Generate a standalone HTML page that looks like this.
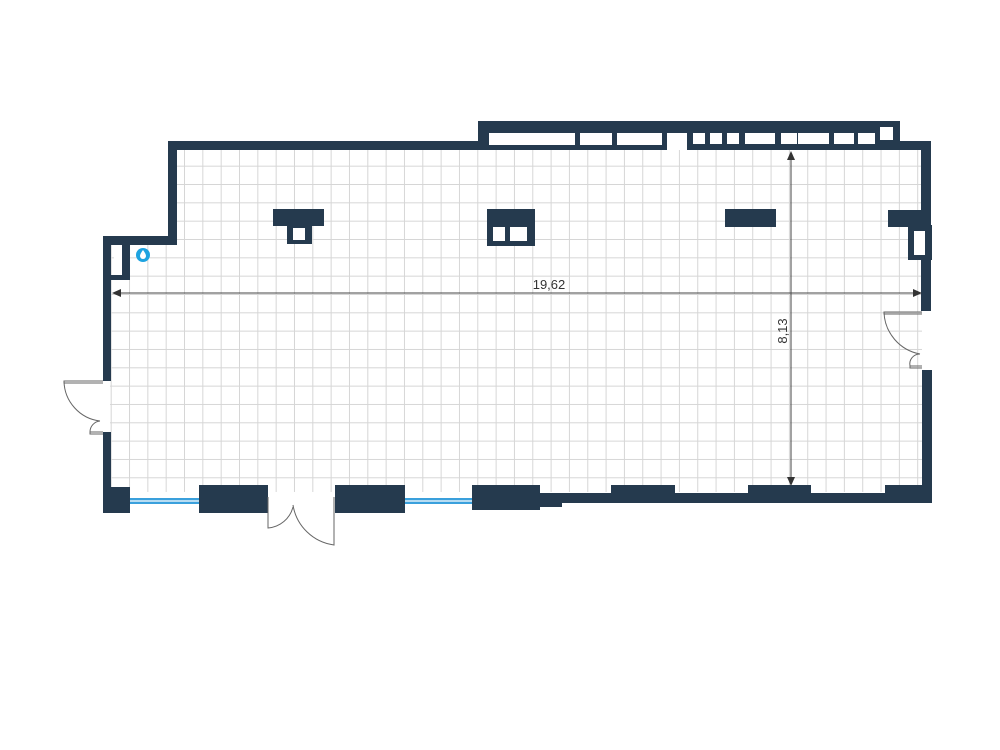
<!DOCTYPE html>
<html><head><meta charset="utf-8"><style>html,body{margin:0;padding:0;background:#fff}svg{display:block}</style></head>
<body>
<svg width="1000" height="750" viewBox="0 0 1000 750" xmlns="http://www.w3.org/2000/svg">
<defs>
<pattern id="g" x="1.7" y="1.7" width="18.33" height="18.33" patternUnits="userSpaceOnUse">
<path d="M18.33 0V18.33M0 18.33H18.33" stroke="#d6d6d6" stroke-width="2" fill="none"/>
</pattern>
<clipPath id="room"><path d="M110 244 H175 V148 H485 V148 H922 V492 H110 Z"/></clipPath>
</defs>
<rect x="110" y="146" width="815" height="350" fill="url(#g)" clip-path="url(#room)"/>
<g fill="#253a4e">
<rect x="103" y="236" width="74" height="9"/>
<rect x="168" y="141" width="9" height="104"/>
<rect x="168" y="141" width="320" height="9"/>
<rect x="103" y="236" width="8" height="145"/>
<rect x="103" y="275" width="27" height="5"/>
<rect x="122" y="244" width="8" height="36"/>
<rect x="103" y="432" width="8" height="60"/>
<rect x="478" y="121" width="422" height="29"/>
<rect x="893" y="141" width="38" height="9"/>
<rect x="921" y="141" width="10" height="170"/>
<rect x="888" y="210" width="43" height="17"/>
<rect x="908" y="225" width="24" height="35"/>
<rect x="922" y="370" width="10" height="132"/>
<rect x="103" y="487" width="27" height="26"/>
<rect x="199" y="485" width="69" height="28"/>
<rect x="335" y="485" width="70" height="28"/>
<rect x="472" y="485" width="68" height="25"/>
<rect x="540" y="493" width="22" height="14"/>
<rect x="540" y="493" width="392" height="10"/>
<rect x="611" y="485" width="64" height="10"/>
<rect x="748" y="485" width="63" height="10"/>
<rect x="885" y="485" width="47" height="10"/>
<rect x="273" y="209" width="51" height="17"/>
<rect x="287" y="224" width="25" height="20"/>
<rect x="487" y="209" width="48" height="37"/>
<rect x="725" y="209" width="51" height="18"/>
</g>
<g fill="#fff">
<rect x="114" y="245" width="8" height="30"/>
<rect x="914" y="231" width="11" height="24"/>
<rect x="293" y="228" width="12" height="12"/>
<rect x="493" y="227" width="12" height="14"/>
<rect x="510" y="227" width="17" height="14"/>
<rect x="489" y="133" width="86" height="12"/>
<rect x="580" y="133" width="32" height="12"/>
<rect x="617" y="133" width="45" height="12"/>
<rect x="667" y="133" width="20" height="17"/>
<rect x="693" y="133" width="12" height="11"/>
<rect x="710" y="133" width="12" height="11"/>
<rect x="727" y="133" width="12" height="11"/>
<rect x="745" y="133" width="30" height="11"/>
<rect x="781" y="133" width="16" height="11"/>
<rect x="798" y="133" width="31" height="11"/>
<rect x="834" y="133" width="20" height="11"/>
<rect x="858" y="133" width="17" height="11"/>
<rect x="880" y="127" width="13" height="13"/>
</g>
<g fill="#3aa0dc">
<rect x="130" y="498" width="69" height="6"/>
<rect x="405" y="498" width="67" height="6"/>
</g>
<g fill="#b7dcf2"><rect x="130" y="500" width="69" height="2"/><rect x="405" y="500" width="67" height="2"/></g>
<circle cx="143" cy="255" r="7" fill="#1ea3e0"/>
<path d="M143 250 q3 4 3 6 a3 3 0 0 1 -6 0 q0 -2 3 -6z" fill="#fff"/>
<g fill="none" stroke="#666" stroke-width="1">
<path d="M103 381 H64 A41 41 0 0 0 100 421"/>
<path d="M64 381 V383 H103"/>
<path d="M103 432 H90 A11 11 0 0 1 100 421"/>
<path d="M90 432 V434 H103"/>
<path d="M268 497 V528 A28 28 0 0 0 293 507"/>
<path d="M334 497 V545 A48 48 0 0 1 293 505"/>
<path d="M922 312 H884 A44 44 0 0 0 920 354"/>
<path d="M884 312 V314 H922"/>
<path d="M922 366 H910 A10 10 0 0 1 920 354"/>
<path d="M910 366 V368 H922"/>
</g>
<g stroke="#444" stroke-width="1" fill="#333">
<line x1="114" y1="293" x2="918" y2="293"/>
<path d="M112 293 l9 -4 v8z" stroke="none"/>
<path d="M922 293 l-9 -4 v8z" stroke="none"/>
<line x1="791" y1="155" x2="791" y2="482"/>
<path d="M791 151 l-4 9 h8z" stroke="none"/>
<path d="M791 486 l-4 -9 h8z" stroke="none"/>
</g>
<text x="549" y="289" font-family="Liberation Sans, sans-serif" font-size="13" fill="#333" text-anchor="middle">19,62</text>
<text transform="translate(787 331) rotate(-90)" font-family="Liberation Sans, sans-serif" font-size="13" fill="#333" text-anchor="middle">8,13</text>
</svg>
</body></html>
